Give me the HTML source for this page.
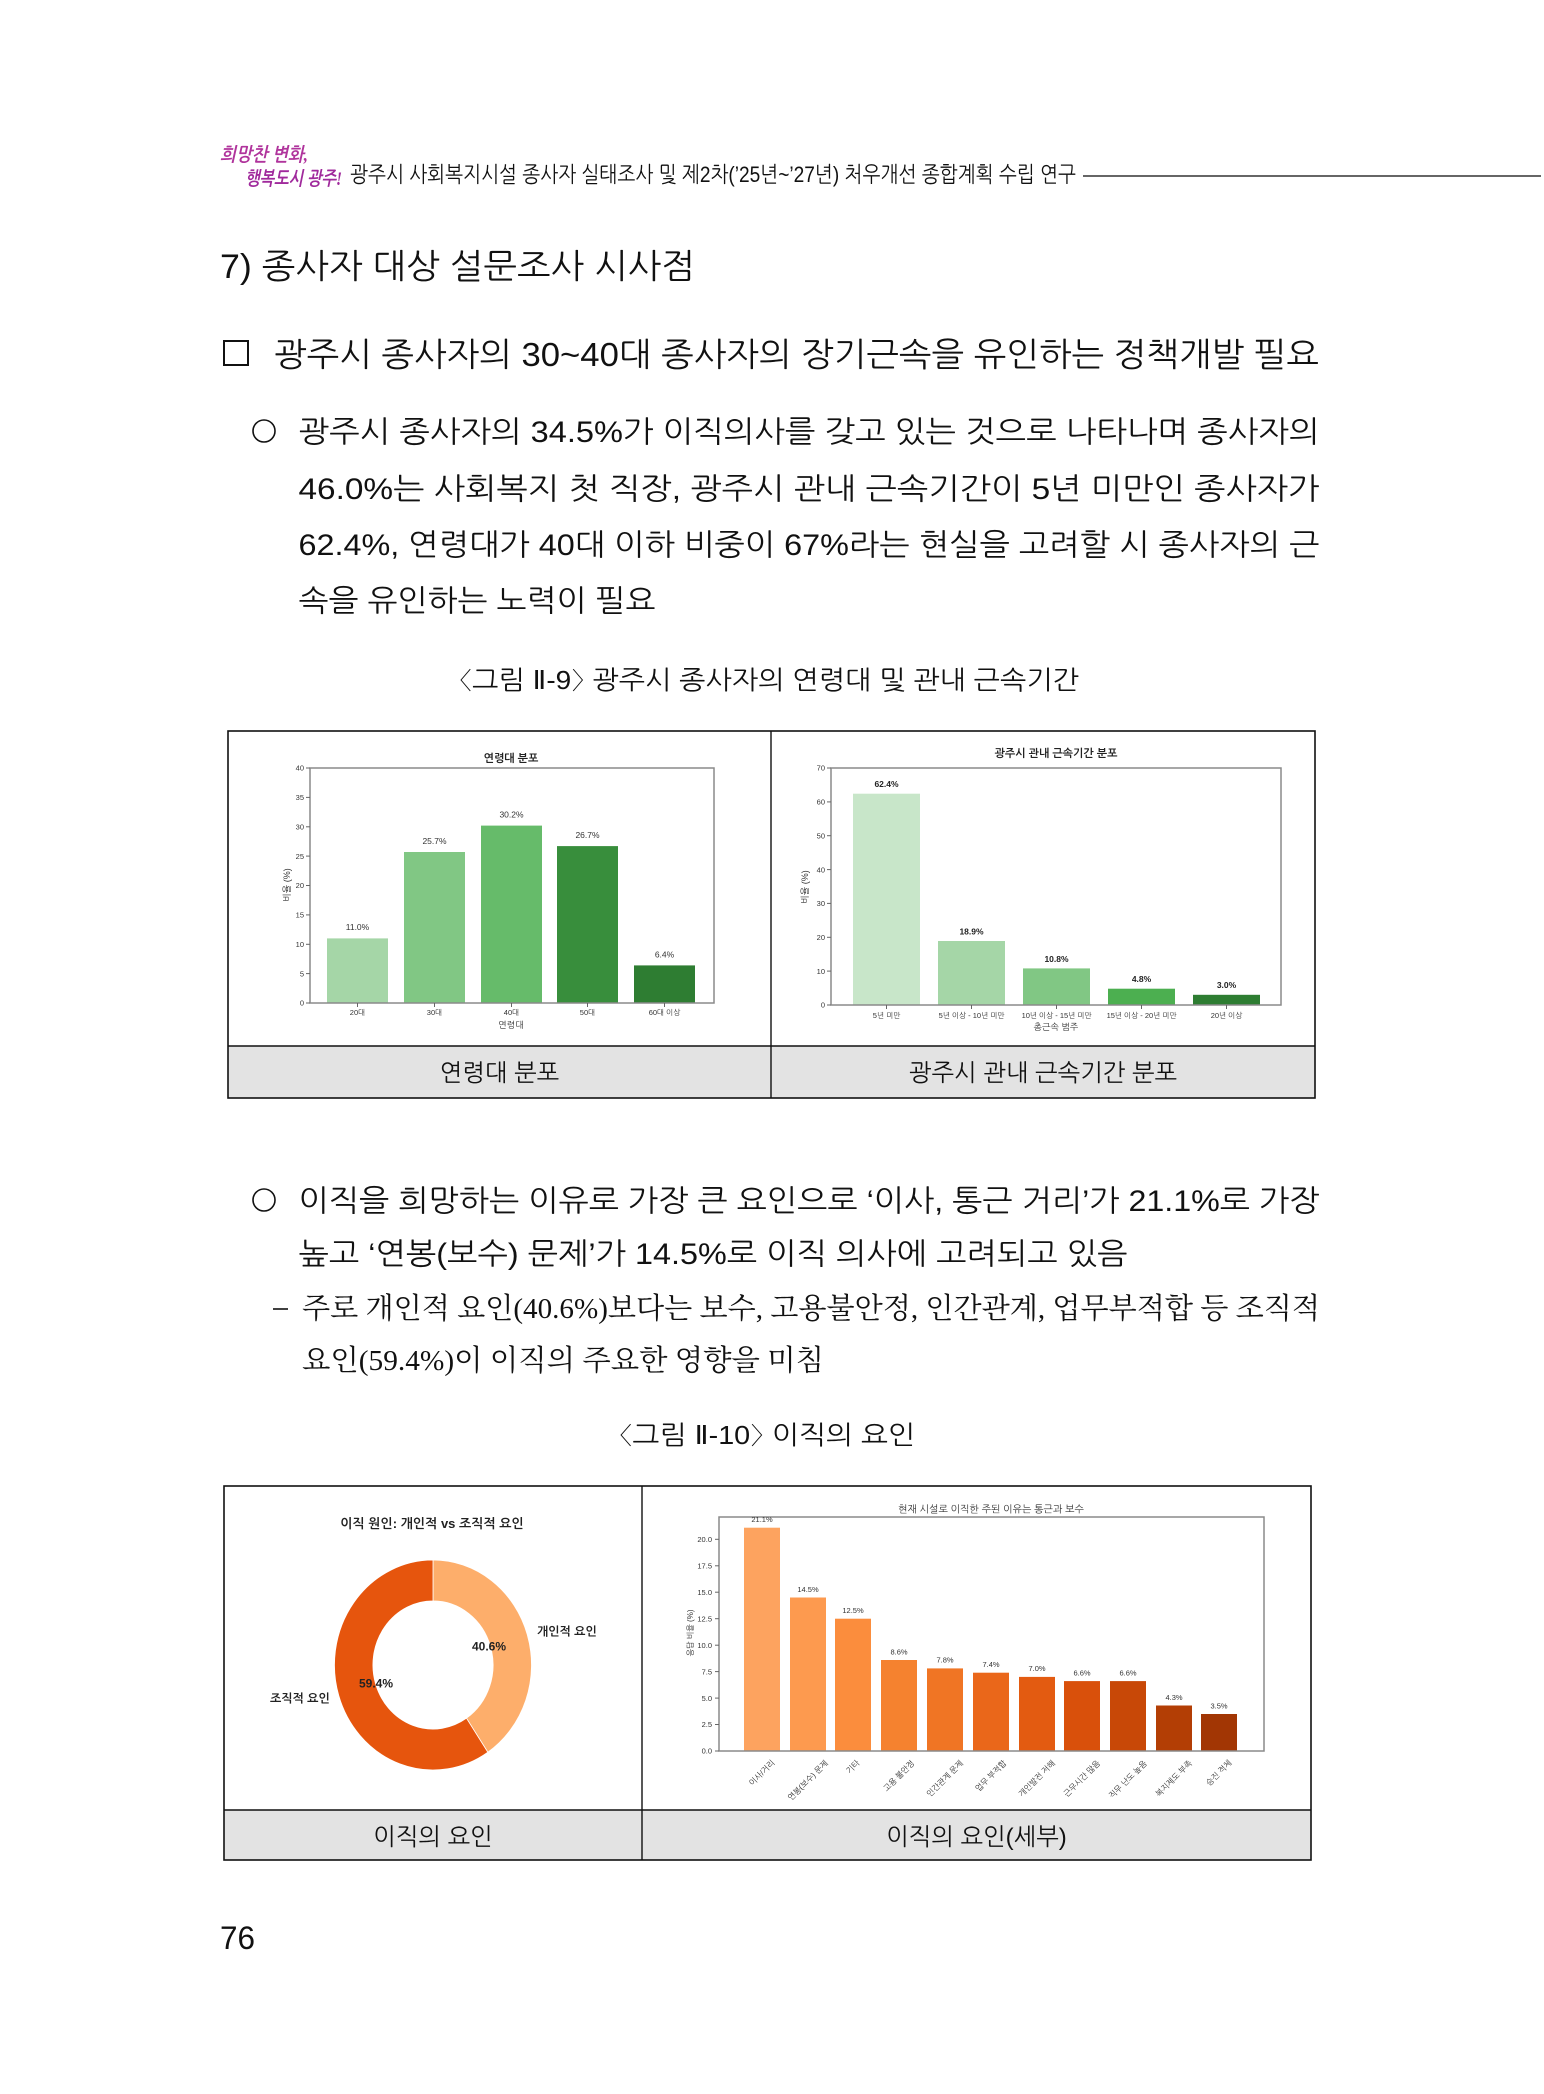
<!DOCTYPE html>
<html lang="ko">
<head>
<meta charset="utf-8">
<title>7) 종사자 대상 설문조사 시사점</title>
<style>
  html,body{margin:0;padding:0;background:#fff;}
  svg{display:block;}
  .k{font-family:"Liberation Sans","NanumGothic",sans-serif;fill:#111;}
  .s{font-family:"Liberation Serif","Noto Serif CJK SC",serif;fill:#111;}
  .c{font-family:"Liberation Sans","NanumGothic",sans-serif;fill:#333;}
  .cb{font-family:"Liberation Sans","NanumGothic",sans-serif;fill:#222;font-weight:bold;}
</style>
</head>
<body>
<svg xmlns="http://www.w3.org/2000/svg" width="1544" height="2094" viewBox="0 0 1544 2094">
  <rect x="0" y="0" width="1544" height="2094" fill="#fff"/>

  <!-- Header logo -->
  <text x="220" y="161" font-family="Liberation Serif, NanumGothic, serif" font-size="19" font-style="italic" font-weight="bold" fill="#b0349c" textLength="88" lengthAdjust="spacingAndGlyphs">희망찬 변화,</text>
  <text x="245" y="185" font-family="Liberation Serif, NanumGothic, serif" font-size="19" font-style="italic" font-weight="bold" fill="#a02a9c" textLength="97" lengthAdjust="spacingAndGlyphs">행복도시 광주!</text>

  <!-- Header text -->
  <text class="k" x="350" y="182" font-size="22" textLength="726" lengthAdjust="spacingAndGlyphs">광주시 사회복지시설 종사자 실태조사 및 제2차(’25년~’27년) 처우개선 종합계획 수립 연구</text>
  <line x1="1083" y1="176" x2="1541" y2="176" stroke="#333" stroke-width="1.5"/>

  <!-- Heading -->
  <text class="k" x="220" y="278" font-size="34" textLength="475" lengthAdjust="spacingAndGlyphs">7) 종사자 대상 설문조사 시사점</text>

  <!-- Box heading -->
  <rect x="224" y="341" width="24" height="24" fill="none" stroke="#111" stroke-width="2"/>
  <text class="k" x="274" y="366" font-size="33" textLength="1045" lengthAdjust="spacingAndGlyphs">광주시 종사자의 30~40대 종사자의 장기근속을 유인하는 정책개발 필요</text>

  <!-- Paragraph 1 -->
  <circle cx="264" cy="431" r="11" fill="none" stroke="#111" stroke-width="1.6"/>
  <text class="k" x="298.5" y="442" font-size="30" textLength="1021" lengthAdjust="spacingAndGlyphs">광주시 종사자의 34.5%가 이직의사를 갖고 있는 것으로 나타나며 종사자의</text>
  <text class="k" x="298.5" y="499" font-size="30" textLength="1021" lengthAdjust="spacingAndGlyphs">46.0%는 사회복지 첫 직장, 광주시 관내 근속기간이 5년 미만인 종사자가</text>
  <text class="k" x="298.5" y="555" font-size="30" textLength="1021" lengthAdjust="spacingAndGlyphs">62.4%, 연령대가 40대 이하 비중이 67%라는 현실을 고려할 시 종사자의 근</text>
  <text class="k" x="298.5" y="611" font-size="30" textLength="357" lengthAdjust="spacingAndGlyphs">속을 유인하는 노력이 필요</text>

  <!-- Caption 1 -->
  <text class="k" x="459" y="689" font-size="26" textLength="620" lengthAdjust="spacingAndGlyphs">〈그림 Ⅱ-9〉 광주시 종사자의 연령대 및 관내 근속기간</text>

  <!-- Table 1 -->
  <rect x="228" y="1046" width="1087" height="52" fill="#e3e3e3"/>
  <rect x="228" y="731" width="1087" height="367" fill="none" stroke="#111" stroke-width="1.6"/>
  <line x1="228" y1="1046" x2="1315" y2="1046" stroke="#111" stroke-width="1.4"/>
  <line x1="771" y1="731" x2="771" y2="1098" stroke="#111" stroke-width="1.4"/>
  <text class="k" x="499.5" y="1081" font-size="24" text-anchor="middle">연령대 분포</text>
  <text class="k" x="1043" y="1081" font-size="24" text-anchor="middle">광주시 관내 근속기간 분포</text>

  <!-- Chart 1: 연령대 분포 -->
  <text class="cb" x="511" y="762" font-size="11" text-anchor="middle">연령대 분포</text>
  <rect x="327" y="938.4" width="61" height="64.6" fill="#a5d6a7"/>
  <rect x="404" y="852" width="61" height="151" fill="#81c784"/>
  <rect x="481" y="825.6" width="61" height="177.4" fill="#66bb6a"/>
  <rect x="557" y="846.1" width="61" height="156.9" fill="#388e3c"/>
  <rect x="634" y="965.4" width="61" height="37.6" fill="#2e7d32"/>
  <rect x="310" y="768" width="404" height="235" fill="none" stroke="#8a8a8a" stroke-width="1.5"/>
  <g class="c" font-size="8.5" text-anchor="middle">
    <text x="357.5" y="930">11.0%</text>
    <text x="434.5" y="844">25.7%</text>
    <text x="511.5" y="817.6">30.2%</text>
    <text x="587.5" y="838">26.7%</text>
    <text x="664.5" y="957.4">6.4%</text>
  </g>
  <g stroke="#666" stroke-width="1">
    <line x1="306" y1="1003" x2="310" y2="1003"/><line x1="306" y1="973.6" x2="310" y2="973.6"/>
    <line x1="306" y1="944.3" x2="310" y2="944.3"/><line x1="306" y1="914.9" x2="310" y2="914.9"/>
    <line x1="306" y1="885.5" x2="310" y2="885.5"/><line x1="306" y1="856.1" x2="310" y2="856.1"/>
    <line x1="306" y1="826.8" x2="310" y2="826.8"/><line x1="306" y1="797.4" x2="310" y2="797.4"/>
    <line x1="306" y1="768" x2="310" y2="768"/>
    <line x1="357.5" y1="1003" x2="357.5" y2="1007"/><line x1="434.5" y1="1003" x2="434.5" y2="1007"/>
    <line x1="511.5" y1="1003" x2="511.5" y2="1007"/><line x1="587.5" y1="1003" x2="587.5" y2="1007"/>
    <line x1="664.5" y1="1003" x2="664.5" y2="1007"/>
  </g>
  <g class="c" font-size="7.5" text-anchor="end">
    <text x="304" y="1005.7">0</text><text x="304" y="976.3">5</text><text x="304" y="947">10</text>
    <text x="304" y="917.6">15</text><text x="304" y="888.2">20</text><text x="304" y="858.8">25</text>
    <text x="304" y="829.5">30</text><text x="304" y="800.1">35</text><text x="304" y="770.7">40</text>
  </g>
  <g class="c" font-size="7.5" text-anchor="middle">
    <text x="357.5" y="1015">20대</text><text x="434.5" y="1015">30대</text>
    <text x="511.5" y="1015">40대</text><text x="587.5" y="1015">50대</text>
    <text x="664.5" y="1015">60대 이상</text>
  </g>
  <text class="c" x="511" y="1028" font-size="9" text-anchor="middle">연령대</text>
  <text class="c" x="0" y="0" font-size="9" text-anchor="middle" transform="translate(290,885) rotate(-90)">비율 (%)</text>

  <!-- Chart 2: 광주시 관내 근속기간 분포 -->
  <text class="cb" x="1056" y="757" font-size="11" text-anchor="middle">광주시 관내 근속기간 분포</text>
  <rect x="853" y="793.7" width="67" height="211.3" fill="#c8e6c9"/>
  <rect x="938" y="941" width="67" height="64" fill="#a5d6a7"/>
  <rect x="1023" y="968.4" width="67" height="36.6" fill="#81c784"/>
  <rect x="1108" y="988.7" width="67" height="16.3" fill="#4caf50"/>
  <rect x="1193" y="994.8" width="67" height="10.2" fill="#2e7d32"/>
  <rect x="831" y="768" width="450" height="237" fill="none" stroke="#8a8a8a" stroke-width="1.5"/>
  <g class="cb" font-size="8.5" text-anchor="middle">
    <text x="886.5" y="787">62.4%</text>
    <text x="971.5" y="934.5">18.9%</text>
    <text x="1056.5" y="962">10.8%</text>
    <text x="1141.5" y="982">4.8%</text>
    <text x="1226.5" y="988">3.0%</text>
  </g>
  <g stroke="#666" stroke-width="1">
    <line x1="827" y1="1005" x2="831" y2="1005"/><line x1="827" y1="971.1" x2="831" y2="971.1"/>
    <line x1="827" y1="937.3" x2="831" y2="937.3"/><line x1="827" y1="903.4" x2="831" y2="903.4"/>
    <line x1="827" y1="869.6" x2="831" y2="869.6"/><line x1="827" y1="835.7" x2="831" y2="835.7"/>
    <line x1="827" y1="801.9" x2="831" y2="801.9"/><line x1="827" y1="768" x2="831" y2="768"/>
    <line x1="886.5" y1="1005" x2="886.5" y2="1009"/><line x1="971.5" y1="1005" x2="971.5" y2="1009"/>
    <line x1="1056.5" y1="1005" x2="1056.5" y2="1009"/><line x1="1141.5" y1="1005" x2="1141.5" y2="1009"/>
    <line x1="1226.5" y1="1005" x2="1226.5" y2="1009"/>
  </g>
  <g class="c" font-size="7.5" text-anchor="end">
    <text x="825" y="1007.7">0</text><text x="825" y="973.8">10</text><text x="825" y="940">20</text>
    <text x="825" y="906.1">30</text><text x="825" y="872.3">40</text><text x="825" y="838.4">50</text>
    <text x="825" y="804.6">60</text><text x="825" y="770.7">70</text>
  </g>
  <g class="c" font-size="7.5" text-anchor="middle">
    <text x="886.5" y="1018">5년 미만</text>
    <text x="971.5" y="1018">5년 이상 - 10년 미만</text>
    <text x="1056.5" y="1018">10년 이상 - 15년 미만</text>
    <text x="1141.5" y="1018">15년 이상 - 20년 미만</text>
    <text x="1226.5" y="1018">20년 이상</text>
  </g>
  <text class="c" x="1056" y="1030" font-size="9" text-anchor="middle">총근속 범주</text>
  <text class="c" x="0" y="0" font-size="9" text-anchor="middle" transform="translate(808,887) rotate(-90)">비율 (%)</text>

  <!-- Paragraph 2 -->
  <circle cx="264" cy="1200" r="11" fill="none" stroke="#111" stroke-width="1.6"/>
  <text class="k" x="298.5" y="1211" font-size="30" textLength="1021" lengthAdjust="spacingAndGlyphs">이직을 희망하는 이유로 가장 큰 요인으로 ‘이사, 통근 거리’가 21.1%로 가장</text>
  <text class="k" x="298.5" y="1264" font-size="30" textLength="829" lengthAdjust="spacingAndGlyphs">높고 ‘연봉(보수) 문제’가 14.5%로 이직 의사에 고려되고 있음</text>
  <line x1="273" y1="1309" x2="288" y2="1309" stroke="#111" stroke-width="1.6"/>
  <text class="s" x="302" y="1318" font-size="29" textLength="1018" lengthAdjust="spacingAndGlyphs">주로 개인적 요인(40.6%)보다는 보수, 고용불안정, 인간관계, 업무부적합 등 조직적</text>
  <text class="s" x="302" y="1370" font-size="29" textLength="522" lengthAdjust="spacingAndGlyphs">요인(59.4%)이 이직의 주요한 영향을 미침</text>

  <!-- Caption 2 -->
  <text class="k" x="619" y="1444" font-size="26" textLength="296" lengthAdjust="spacingAndGlyphs">〈그림 Ⅱ-10〉 이직의 요인</text>

  <!-- Table 2 -->
  <rect x="224" y="1810" width="1087" height="50" fill="#e3e3e3"/>
  <rect x="224" y="1486" width="1087" height="374" fill="none" stroke="#111" stroke-width="1.6"/>
  <line x1="224" y1="1810" x2="1311" y2="1810" stroke="#111" stroke-width="1.4"/>
  <line x1="642" y1="1486" x2="642" y2="1860" stroke="#111" stroke-width="1.4"/>
  <text class="k" x="433" y="1845" font-size="24" text-anchor="middle">이직의 요인</text>
  <text class="k" x="976.5" y="1845" font-size="24" text-anchor="middle">이직의 요인(세부)</text>

  <!-- Chart 3: donut -->
  <text class="cb" x="432" y="1528" font-size="13" text-anchor="middle">이직 원인: 개인적 vs 조직적 요인</text>
  <g transform="translate(433,1665) scale(0.985,1.05)">
    <path d="M 0 -100 A 100 100 0 0 1 55.68 83.06 L 33.96 50.67 A 61 61 0 0 0 0 -61 Z" fill="#fdae6b" stroke="#fff" stroke-width="0.8"/>
    <path d="M 55.68 83.06 A 100 100 0 1 1 0 -100 L 0 -61 A 61 61 0 1 0 33.96 50.67 Z" fill="#e6550d" stroke="#fff" stroke-width="0.8"/>
  </g>
  <text class="cb" x="537" y="1635.5" font-size="12">개인적 요인</text>
  <text class="cb" x="270" y="1702.5" font-size="12">조직적 요인</text>
  <text class="cb" x="489" y="1650.5" font-size="12" text-anchor="middle">40.6%</text>
  <text class="cb" x="376" y="1687.5" font-size="12" text-anchor="middle">59.4%</text>

  <!-- Chart 4: detailed reasons -->
  <text class="c" x="991" y="1512.5" font-size="10" text-anchor="middle">현재 시설로 이직한 주된 이유는 통근과 보수</text>
  <rect x="744" y="1527.7" width="36" height="223.3" fill="#fda35f"/>
  <rect x="790" y="1597.5" width="36" height="153.5" fill="#fd9a4f"/>
  <rect x="835" y="1618.7" width="36" height="132.3" fill="#fb8d3d"/>
  <rect x="881" y="1660" width="36" height="91" fill="#f5822f"/>
  <rect x="927" y="1668.4" width="36" height="82.6" fill="#f07524"/>
  <rect x="973" y="1672.7" width="36" height="78.3" fill="#ea671a"/>
  <rect x="1019" y="1676.9" width="36" height="74.1" fill="#e35b11"/>
  <rect x="1064" y="1681.1" width="36" height="69.9" fill="#d9500b"/>
  <rect x="1110" y="1681.1" width="36" height="69.9" fill="#c84807"/>
  <rect x="1156" y="1705.5" width="36" height="45.5" fill="#b33e05"/>
  <rect x="1201" y="1714" width="36" height="37" fill="#a23604"/>
  <rect x="719" y="1517" width="545" height="234" fill="none" stroke="#8a8a8a" stroke-width="1.5"/>
  <g class="c" font-size="7.5" text-anchor="middle">
    <text x="762" y="1522">21.1%</text>
    <text x="808" y="1592">14.5%</text>
    <text x="853" y="1613">12.5%</text>
    <text x="899" y="1654.5">8.6%</text>
    <text x="945" y="1662.5">7.8%</text>
    <text x="991" y="1667">7.4%</text>
    <text x="1037" y="1671">7.0%</text>
    <text x="1082" y="1675.5">6.6%</text>
    <text x="1128" y="1675.5">6.6%</text>
    <text x="1174" y="1700">4.3%</text>
    <text x="1219" y="1708.5">3.5%</text>
  </g>
  <g stroke="#666" stroke-width="1">
    <line x1="715" y1="1751" x2="719" y2="1751"/><line x1="715" y1="1724.5" x2="719" y2="1724.5"/>
    <line x1="715" y1="1698.1" x2="719" y2="1698.1"/><line x1="715" y1="1671.6" x2="719" y2="1671.6"/>
    <line x1="715" y1="1645.2" x2="719" y2="1645.2"/><line x1="715" y1="1618.7" x2="719" y2="1618.7"/>
    <line x1="715" y1="1592.2" x2="719" y2="1592.2"/><line x1="715" y1="1565.8" x2="719" y2="1565.8"/>
    <line x1="715" y1="1539.3" x2="719" y2="1539.3"/>
  </g>
  <g class="c" font-size="7.5" text-anchor="end">
    <text x="712" y="1753.7">0.0</text><text x="712" y="1727.2">2.5</text><text x="712" y="1700.8">5.0</text>
    <text x="712" y="1674.3">7.5</text><text x="712" y="1647.9">10.0</text><text x="712" y="1621.4">12.5</text>
    <text x="712" y="1594.9">15.0</text><text x="712" y="1568.5">17.5</text><text x="712" y="1542">20.0</text>
  </g>
  <text class="c" x="0" y="0" font-size="8" text-anchor="middle" transform="translate(693,1633) rotate(-90)">응답 비율 (%)</text>
  <g class="c" font-size="8" text-anchor="middle" dominant-baseline="central">
    <text transform="translate(762,1773) rotate(-45)">이사/거리</text>
    <text transform="translate(808,1780.5) rotate(-45)">연봉(보수) 문제</text>
    <text transform="translate(853,1767) rotate(-45)">기타</text>
    <text transform="translate(899,1776) rotate(-45)">고용 불안정</text>
    <text transform="translate(945,1778.7) rotate(-45)">인간관계 문제</text>
    <text transform="translate(991,1776) rotate(-45)">업무 부적합</text>
    <text transform="translate(1037,1778.7) rotate(-45)">개인발전 저해</text>
    <text transform="translate(1082,1778.7) rotate(-45)">근무시간 많음</text>
    <text transform="translate(1128,1779.6) rotate(-45)">직무 난도 높음</text>
    <text transform="translate(1174,1778.7) rotate(-45)">복지제도 부족</text>
    <text transform="translate(1219,1773) rotate(-45)">승진 적체</text>
  </g>

  <!-- Page number -->
  <text class="k" x="220" y="1949" font-size="32" fill="#333" textLength="35" lengthAdjust="spacingAndGlyphs">76</text>
</svg>
</body>
</html>
